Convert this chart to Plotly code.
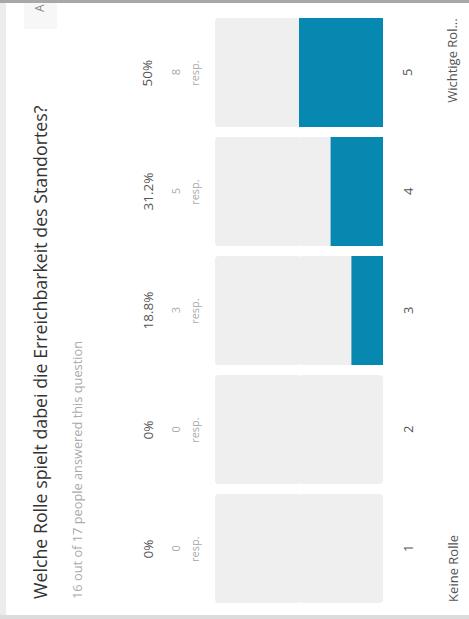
import plotly.graph_objects as go

# ---- data ----
categories = [1, 2, 3, 4, 5]
cat_labels = ["1", "2", "3", "4", "5"]
pct_values = [0, 0, 18.8, 31.2, 50]
pct_labels = ["0%", "0%", "18.8%", "31.2%", "50%"]
resp_counts = [0, 0, 3, 5, 8]
end_labels = ["Keine Rolle", "Wichtige Rol..."]
title_text = "Welche Rolle spielt dabei die Erreichbarkeit des Standortes?"
subtitle_text = "16 out of 17 people answered this question"
total = 100

W, H = 469, 619
TEAL = "#0788b0"
TRACK = "#efefef"

fig = go.Figure()
half = total / 2
# background track (two halves so both ends get rounded corners)
fig.add_trace(go.Bar(y=categories, x=[half + 0.6] * 5, base=[half - 0.6] * 5,
                     orientation="h", marker=dict(color=TRACK, line=dict(width=0)),
                     width=0.916, hoverinfo="skip"))
fig.add_trace(go.Bar(y=categories, x=[-(half + 0.6)] * 5, base=[half + 0.6] * 5,
                     orientation="h", marker=dict(color=TRACK, line=dict(width=0)),
                     width=0.916, hoverinfo="skip"))
# value bars
fig.add_trace(go.Bar(y=categories, x=pct_values,
                     orientation="h", marker=dict(color=TEAL, line=dict(width=0)),
                     width=0.916, hoverinfo="skip"))

ann = []
font = "Open Sans"
for c, pl, n, cl in zip(categories, pct_labels, resp_counts, cat_labels):
    ann.append(dict(x=139.9, y=c, xref="x", yref="y", text=pl, showarrow=False,
                    textangle=-90, font=dict(family=font, size=13.5, color="#555")))
    ann.append(dict(x=123.3, y=c, xref="x", yref="y", text=str(n), showarrow=False,
                    textangle=-90, font=dict(family=font, size=11, color="#aaa")))
    ann.append(dict(x=112.3, y=c, xref="x", yref="y", text="resp.", showarrow=False,
                    textangle=-90, font=dict(family=font, size=11, color="#aaa")))
    ann.append(dict(x=-14.6, y=c, xref="x", yref="y", text=cl, showarrow=False,
                    textangle=-90, font=dict(family=font, size=13, color="#555")))

ann.append(dict(x=-41.3, y=0.534, xref="x", yref="y", text=end_labels[0], showarrow=False,
                textangle=-90, yanchor="bottom", font=dict(family=font, size=13, color="#555")))
ann.append(dict(x=-41.3, y=5.475, xref="x", yref="y", text=end_labels[1], showarrow=False,
                textangle=-90, yanchor="top", font=dict(family=font, size=13, color="#555")))

ann.append(dict(x=40 / W, y=1 - 601 / H, xref="paper", yref="paper", text=title_text,
                showarrow=False, textangle=-90, xanchor="center", yanchor="bottom",
                font=dict(family=font, size=17.8, color="#333")))
ann.append(dict(x=77 / W, y=1 - 601 / H, xref="paper", yref="paper", text=subtitle_text,
                showarrow=False, textangle=-90, xanchor="center", yanchor="bottom",
                font=dict(family=font, size=12.8, color="#aaa")))
ann.append(dict(x=40 / W, y=1 - 8 / H, xref="paper", yref="paper", text="A",
                showarrow=False, textangle=-90, xanchor="center", yanchor="middle",
                font=dict(family=font, size=12, color="#888")))

shapes = [
    dict(type="rect", xref="paper", yref="paper", x0=0, x1=6 / W, y0=0, y1=1,
         fillcolor="#ececec", line=dict(width=0), layer="below"),
    dict(type="rect", xref="paper", yref="paper", x0=0, x1=1, y0=1 - 3 / H, y1=1,
         fillcolor="#a8a8a8", line=dict(width=0), layer="below"),
    dict(type="rect", xref="paper", yref="paper", x0=0, x1=1, y0=0, y1=4 / H,
         fillcolor="#dcdcdc", line=dict(width=0), layer="below"),
    dict(type="rect", xref="paper", yref="paper", x0=24 / W, x1=57 / W, y0=1 - 29 / H, y1=1 - 3 / H,
         fillcolor="#f7f7f7", line=dict(width=0), layer="below"),
]

fig.update_layout(
    width=W, height=H, margin=dict(l=0, r=0, t=0, b=0),
    paper_bgcolor="white", plot_bgcolor="rgba(0,0,0,0)",
    barmode="overlay", barcornerradius=4, showlegend=False,
    xaxis=dict(range=[227.98, -51.19], visible=False, fixedrange=True),
    yaxis=dict(range=[0.408, 5.609], visible=False, fixedrange=True),
    annotations=ann, shapes=shapes,
)

fig.write_html("out.html", config={"displayModeBar": False})
